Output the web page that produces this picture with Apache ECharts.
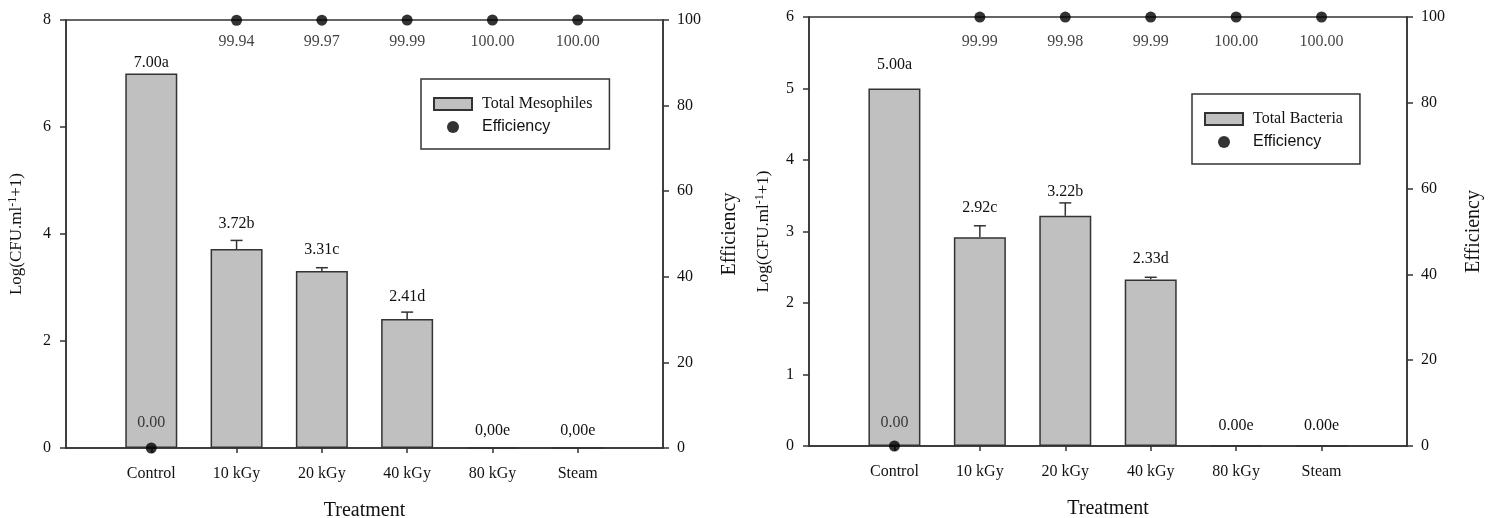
<!DOCTYPE html>
<html>
<head>
<meta charset="utf-8">
<script src="https://cdn.jsdelivr.net/npm/echarts@6/dist/echarts.min.js"></script>
<style>
  html, body { margin: 0; padding: 0; background: #fff; }
  #chart { width: 1497px; height: 518px; }
</style>
</head>
<body>
<div id="chart"></div>
<script>
// treatments on the x axis
var categories = ['Control', '10 kGy', '20 kGy', '40 kGy', '80 kGy', 'Steam'];

// left panel - total mesophiles
var mesoMean = [7.00, 3.72, 3.31, 2.41, 0, 0];
var mesoErr = [0, 0.16, 0.06, 0.13, 0, 0];
var mesoLabels = ['7.00a', '3.72b', '3.31c', '2.41d', '0,00e', '0,00e'];
var mesoEff = [0, 99.94, 99.97, 99.99, 100, 100];
var mesoEffLabels = ['0.00', '99.94', '99.97', '99.99', '100.00', '100.00'];

// right panel - total bacteria
var bactMean = [5.00, 2.92, 3.22, 2.33, 0, 0];
var bactErr = [0, 0.16, 0.18, 0.03, 0, 0];
var bactLabels = ['5.00a', '2.92c', '3.22b', '2.33d', '0.00e', '0.00e'];
var bactEff = [0, 99.99, 99.98, 99.99, 100, 100];
var bactEffLabels = ['0.00', '99.99', '99.98', '99.99', '100.00', '100.00'];

var leftTicks = { max: 8, interval: 2 };
var rightTicks = { max: 6, interval: 1 };

var serif = 'Liberation Serif';
var sans = 'Liberation Sans';
var ink = '#111';
var lineCol = '#333';

// label offsets above bars (style only)
var mesoGap = [3, 17, 13, 14, 8, 8];
var bactGap = [16, 21, 16, 13, 11, 11];
var mesoEffGap = [12, 8, 8, 8, 8, 8];
var bactEffGap = [10, 11, 11, 11, 11, 11];

var xData = [''].concat(categories, ['']);

function xAxisFor(gi) {
	return {
		type: 'category',
		gridIndex: gi,
		data: xData,
		boundaryGap: false,
		name: 'Treatment',
		nameLocation: 'middle',
		nameGap: 53,
		nameTextStyle: { fontFamily: serif, fontSize: 20, color: ink },
		axisLine: { lineStyle: { color: lineCol, width: 1.5 } },
		axisTick: {
			length: 5,
			lineStyle: { color: lineCol, width: 1.5 },
			interval: function (i) { return i > 0 && i < xData.length - 1; }
		},
		axisLabel: { fontFamily: serif, fontSize: 16, color: ink, margin: 18, interval: 0 },
		splitLine: { show: false }
	};
}

function leftAxisFor(gi, ticks, gap) {
	return {
		type: 'value',
		gridIndex: gi,
		position: 'left',
		min: 0,
		max: ticks.max,
		interval: ticks.interval,
		name: 'Log(CFU.ml{sup|-1}+1)',
		nameLocation: 'middle',
		nameRotate: 90,
		nameGap: gap,
		nameTextStyle: {
			fontFamily: serif, fontSize: 17, color: ink, verticalAlign: 'bottom',
			rich: { sup: { fontFamily: serif, fontSize: 12, color: ink, padding: [0, 0, 8, 0] } }
		},
		axisLine: { show: true, lineStyle: { color: lineCol, width: 1.5 } },
		axisTick: { show: true, length: 6, lineStyle: { color: lineCol, width: 1.5 } },
		axisLabel: { fontFamily: serif, fontSize: 16, color: ink, margin: 15 },
		splitLine: { show: false }
	};
}

function rightAxisFor(gi) {
	return {
		type: 'value',
		gridIndex: gi,
		position: 'right',
		min: 0,
		max: 100,
		interval: 20,
		name: 'Efficiency',
		nameLocation: 'middle',
		nameRotate: 90,
		nameGap: 57,
		nameTextStyle: { fontFamily: serif, fontSize: 20, color: ink },
		axisLine: { show: true, lineStyle: { color: lineCol, width: 1.5 } },
		axisTick: { show: true, length: 6, lineStyle: { color: lineCol, width: 1.5 } },
		axisLabel: { fontFamily: serif, fontSize: 16, color: ink, margin: 14 },
		splitLine: { show: false }
	};
}

function barSeries(name, xi, yi, mean, labels, gaps) {
	var data = ['-'];
	mean.forEach(function (v, i) {
		data.push({ value: v, label: { distance: gaps[i] } });
	});
	data.push('-');
	return {
		name: name,
		type: 'bar',
		xAxisIndex: xi,
		yAxisIndex: yi,
		barWidth: 52,
		data: data,
		itemStyle: { color: '#c0c0c0', borderColor: lineCol, borderWidth: 1.5 },
		label: {
			show: true,
			position: 'top',
			fontFamily: serif,
			fontSize: 16,
			color: ink,
			formatter: function (p) { return labels[p.dataIndex - 1]; }
		},
		z: 2
	};
}

function errSeries(xi, yi, mean, err) {
	return {
		type: 'custom',
		xAxisIndex: xi,
		yAxisIndex: yi,
		data: mean.map(function (v, i) { return [i + 1, v, err[i]]; }),
		renderItem: function (params, api) {
			var e = api.value(2);
			if (!e) return;
			var p0 = api.coord([api.value(0), api.value(1)]);
			var p1 = api.coord([api.value(0), api.value(1) + e]);
			var st = { stroke: lineCol, lineWidth: 1.5 };
			return {
				type: 'group',
				children: [
					{ type: 'line', shape: { x1: p0[0], y1: p0[1], x2: p1[0], y2: p1[1] }, style: st },
					{ type: 'line', shape: { x1: p1[0] - 6, y1: p1[1], x2: p1[0] + 6, y2: p1[1] }, style: st }
				]
			};
		},
		z: 3
	};
}

function effSeries(xi, yi, eff, labels, gaps) {
	var data = ['-'];
	eff.forEach(function (v, i) {
		data.push({
			value: v,
			label: { position: v < 50 ? 'top' : 'bottom', distance: gaps[i] }
		});
	});
	data.push('-');
	return {
		name: 'Efficiency',
		type: 'scatter',
		xAxisIndex: xi,
		yAxisIndex: yi,
		symbol: 'circle',
		symbolSize: 11,
		clip: false,
		itemStyle: { color: '#000' },
		data: data,
		label: {
			show: true,
			fontFamily: serif,
			fontSize: 16,
			color: ink,
			formatter: function (p) { return labels[p.dataIndex - 1]; }
		},
		z: 5
	};
}

function legendFor(left, top, barName) {
	return {
		left: left,
		top: top,
		orient: 'vertical',
		padding: [17, 17, 14, 12],
		itemGap: 7,
		itemWidth: 38,
		itemHeight: 12,
		borderColor: lineCol,
		borderWidth: 1.5,
		textStyle: { fontSize: 16, color: ink, padding: [0, 0, 0, 5] },
		data: [
			{ name: barName, icon: 'rect', textStyle: { fontFamily: serif } },
			{ name: 'Efficiency', icon: 'circle', textStyle: { fontFamily: sans } }
		]
	};
}

var option = {
	animation: false,
	backgroundColor: '#fff',
	grid: [
		{ left: 66, top: 20, width: 597, height: 428, show: true, borderColor: lineCol, borderWidth: 1.5, outerBoundsMode: 'none' },
		{ left: 809, top: 17, width: 598, height: 429, show: true, borderColor: lineCol, borderWidth: 1.5, outerBoundsMode: 'none' }
	],
	legend: [
		legendFor(421, 79, 'Total Mesophiles'),
		legendFor(1192, 94, 'Total Bacteria')
	],
	xAxis: [xAxisFor(0), xAxisFor(1)],
	yAxis: [
		leftAxisFor(0, leftTicks, 39),
		rightAxisFor(0),
		leftAxisFor(1, rightTicks, 35),
		rightAxisFor(1)
	],
	series: [
		barSeries('Total Mesophiles', 0, 0, mesoMean, mesoLabels, mesoGap),
		errSeries(0, 0, mesoMean, mesoErr),
		effSeries(0, 1, mesoEff, mesoEffLabels, mesoEffGap),
		barSeries('Total Bacteria', 1, 2, bactMean, bactLabels, bactGap),
		errSeries(1, 2, bactMean, bactErr),
		effSeries(1, 3, bactEff, bactEffLabels, bactEffGap)
	]
};

var myChart = echarts.init(document.getElementById('chart'));
myChart.setOption(option);
</script>
</body>
</html>
